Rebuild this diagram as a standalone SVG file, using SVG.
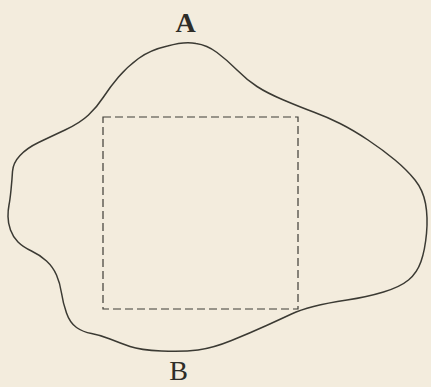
<svg xmlns="http://www.w3.org/2000/svg" width="431" height="387" viewBox="0 0 431 387">
<style>
.outline{fill:none;stroke:#3b3a33;stroke-width:1.5;stroke-linejoin:round}
.dash{fill:none;stroke:#3f3d36;stroke-width:1.2;stroke-dasharray:8 4}
.lbl{font-family:"Liberation Serif","Times New Roman",serif;font-size:28px;fill:#2e2d28;text-anchor:middle}
</style>
<rect width="431" height="387" fill="#f3ecdd"/>
<g id="region">
<path class="outline" d="M196,43.5 Q207,45 217,52.5 Q227,60 237,70 Q247,80 257,86.5 Q267,93 283.5,100 Q300,107 313.5,112 Q327,117 340,123.5 Q353,130 368,140 Q383,150 395,160 Q407,170 415,180 Q423,190 425.5,203.5 Q428,217 426.5,233.5 Q425,250 421,261.5 Q417,273 408.5,280 Q400,287 383.5,292 Q367,297 347,300 Q327,303 313.5,306.5 Q300,310 291.5,314 Q283,318 266.5,325.5 Q250,333 231.5,340.5 Q213,348 198,350 Q183,352 161.5,351 Q140,350 130,346.5 Q120,343 110,339 Q100,335 91.5,333.5 Q83,332 76.5,327.5 Q70,323 66.5,313 Q63,303 61.5,293 Q60,283 56.5,275 Q53,267 46.5,261 Q40,255 31.5,251 Q23,247 18,242 Q13,237 10.5,230 Q8,223 8,216.5 Q8,210 9,205 Q10,200 11,190 Q12,180 12.5,171.5 Q13,163 20,155.5 Q27,148 38.5,142.5 Q50,137 65,130 Q80,123 88.5,115 Q97,107 103.5,97 Q110,87 118.5,77 Q127,67 138.5,58.5 Q150,50 167.5,46 Q185,41 196,43.5 Z"/>
</g>
<g id="square">
<rect class="dash" x="103" y="117" width="195" height="192"/>
</g>
<g id="label-A"><text class="lbl" x="185.5" y="32" font-weight="bold">A</text></g>
<g id="label-B"><text class="lbl" x="178.5" y="380">B</text></g>
</svg>
